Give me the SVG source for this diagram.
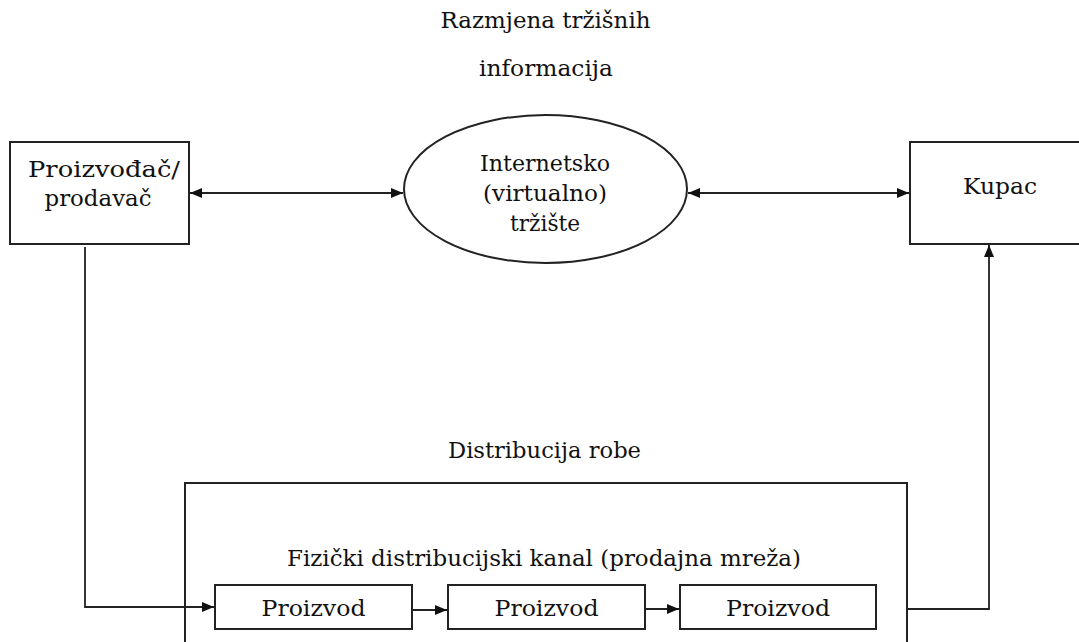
<svg xmlns="http://www.w3.org/2000/svg" width="1079" height="642" viewBox="0 0 1079 642">
<style>
.box{fill:#fff;stroke:#222;stroke-width:2}
.ln{fill:none;stroke:#222;stroke-width:1.8}
</style>
<defs>
<marker id="ah" viewBox="0 0 12 10" refX="12" refY="5" markerWidth="12" markerHeight="10" markerUnits="userSpaceOnUse" orient="auto-start-reverse">
<path d="M0,0 L12,5 L0,10 Z" fill="#111"/>
</marker>
</defs>
<rect width="1079" height="642" fill="#fff"/>
<g font-family="DejaVu Serif, Liberation Serif, serif" font-size="23" fill="#111" text-anchor="middle">
<g id="label-info">
<text x="545.5" y="28" textLength="210" lengthAdjust="spacingAndGlyphs">Razmjena tržišnih</text>
<text x="546" y="76" textLength="134" lengthAdjust="spacingAndGlyphs">informacija</text>
</g>
<g id="proizvodjac">
<rect class="box" x="10" y="142" width="179" height="102"/>
<text x="104" y="177" textLength="152" lengthAdjust="spacingAndGlyphs">Proizvođač/</text>
<text x="98" y="206" textLength="107" lengthAdjust="spacingAndGlyphs">prodavač</text>
</g>
<g id="trziste">
<ellipse class="box" cx="545.5" cy="189" rx="141.5" ry="74"/>
<text x="545" y="171" textLength="130" lengthAdjust="spacingAndGlyphs">Internetsko</text>
<text x="545" y="201" textLength="124" lengthAdjust="spacingAndGlyphs">(virtualno)</text>
<text x="545" y="231" textLength="70" lengthAdjust="spacingAndGlyphs">tržište</text>
</g>
<g id="kupac">
<rect class="box" x="910" y="142" width="180" height="102"/>
<text x="1000" y="194" textLength="74" lengthAdjust="spacingAndGlyphs">Kupac</text>
</g>
<g id="label-distribucija">
<text x="544.5" y="458" textLength="193" lengthAdjust="spacingAndGlyphs">Distribucija robe</text>
</g>
<g id="kanal">
<rect class="box" x="185" y="483" width="722" height="170"/>
<text x="544" y="566" textLength="514" lengthAdjust="spacingAndGlyphs">Fizički distribucijski kanal (prodajna mreža)</text>
</g>
<g id="proizvod1">
<rect class="box" x="215" y="585" width="197" height="44"/>
<text x="313.5" y="616" textLength="104" lengthAdjust="spacingAndGlyphs">Proizvod</text>
</g>
<g id="proizvod2">
<rect class="box" x="448" y="585" width="197" height="44"/>
<text x="546.5" y="616" textLength="104" lengthAdjust="spacingAndGlyphs">Proizvod</text>
</g>
<g id="proizvod3">
<rect class="box" x="680" y="585" width="196" height="44"/>
<text x="778" y="616" textLength="104" lengthAdjust="spacingAndGlyphs">Proizvod</text>
</g>
</g>
<g id="connectors">
<line class="ln" x1="190" y1="193" x2="403" y2="193" marker-start="url(#ah)" marker-end="url(#ah)"/>
<line class="ln" x1="688" y1="193" x2="909" y2="193" marker-start="url(#ah)" marker-end="url(#ah)"/>
<path class="ln" d="M85,247 V607 H214" marker-end="url(#ah)"/>
<line class="ln" x1="412" y1="610" x2="447" y2="610" marker-end="url(#ah)"/>
<line class="ln" x1="645" y1="609" x2="679" y2="609" marker-end="url(#ah)"/>
<path class="ln" d="M907,609 H989 V245" marker-end="url(#ah)"/>
</g>
</svg>
